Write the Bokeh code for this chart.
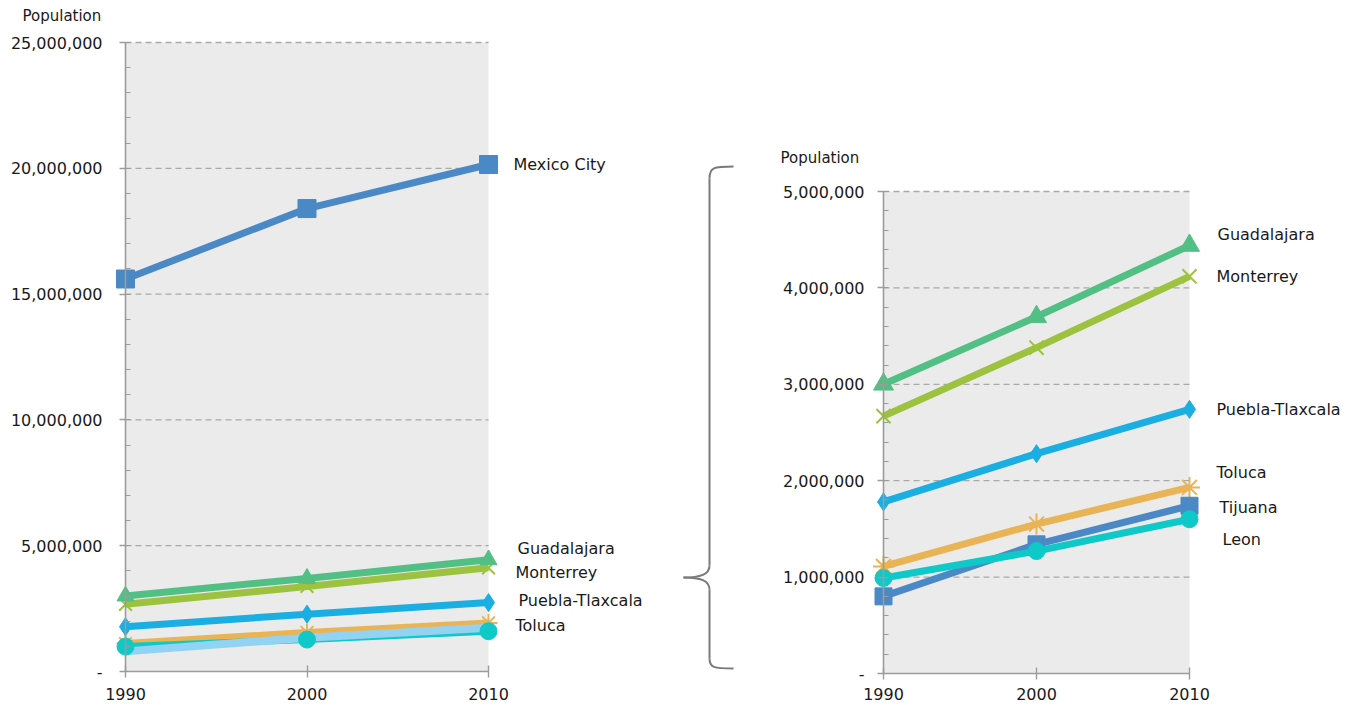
from bokeh.plotting import figure
from bokeh.layouts import row
from bokeh.models import Range1d, FixedTicker, NumeralTickFormatter, BoxAnnotation, Label
from bokeh.core.properties import value
from bokeh.embed import file_html
from bokeh.resources import INLINE

# Metropolitan population by census year
years = [1990, 2000, 2010]
mexico_city = [15_600_000, 18_400_000, 20_150_000]
guadalajara = [3_000_000, 3_700_000, 4_440_000]
monterrey = [2_670_000, 3_380_000, 4_120_000]
puebla_tlaxcala = [1_780_000, 2_280_000, 2_740_000]
toluca = [1_110_000, 1_550_000, 1_930_000]
tijuana = [800_000, 1_340_000, 1_740_000]
leon = [990_000, 1_270_000, 1_600_000]

# Axis ticks for the full view and the zoomed view
full_major = [0, 5_000_000, 10_000_000, 15_000_000, 20_000_000, 25_000_000]
full_minor = list(range(0, 25_000_001, 1_000_000))
zoom_major = [0, 1_000_000, 2_000_000, 3_000_000, 4_000_000, 5_000_000]
zoom_minor = list(range(0, 5_000_001, 200_000))

HEIGHT = 706
FONT = "DejaVu Sans"
TEXT = "#1a1a1a"
AXIS = "#9c9c9c"
GRID = "#a9a9a9"
PANEL = "#ebebeb"

BLUE = "#4a89c5"
GREEN = "#52bf84"
OLIVE = "#9dc23f"
SKY = "#1aaee2"
GOLD = "#e8b455"
TEAL = "#0fc9c9"
PALE = "#92d3f3"


def population_panel(width, axis_px, year_px, zero_px, top_px, y_top, major, minor,
                     y_standoff, x_standoff, title_dx, title_dy):
    """A panel whose frame fills the whole canvas; axes sit at fixed data
    locations (first census year, zero population) inside it."""
    px_per_unit = (zero_px - top_px) / y_top
    x0 = years[0] - axis_px / year_px
    x1 = x0 + width / year_px
    y0 = -(HEIGHT - zero_px) / px_per_unit
    y1 = y_top + top_px / px_per_unit
    p = figure(width=width, height=HEIGHT,
               x_range=Range1d(x0, x1), y_range=Range1d(y0, y1),
               output_backend="svg", toolbar_location=None, min_border=0)
    p.outline_line_color = None
    p.background_fill_color = "white"
    p.border_fill_color = "white"
    p.grid.visible = False

    # shaded plotting area between the first and last census
    p.add_layout(BoxAnnotation(left=years[0], right=years[-1], bottom=0, top=y_top,
                               fill_color=PANEL, fill_alpha=1.0, line_color=None,
                               level="underlay"))
    levels = [t for t in major if t > 0]
    p.segment(x0=[years[0]] * len(levels), y0=levels,
              x1=[years[-1]] * len(levels), y1=levels,
              line_color=GRID, line_width=1.3, line_dash="6 4")

    ya = p.yaxis[0]
    ya.fixed_location = years[0]
    ya.bounds = (0, y_top)
    ya.ticker = FixedTicker(ticks=major, minor_ticks=minor)
    ya.formatter = NumeralTickFormatter(format="0,0")
    ya.major_label_overrides = {0: "-"}
    ya.axis_line_color = AXIS
    ya.axis_line_width = 1.6
    ya.major_tick_line_color = AXIS
    ya.major_tick_line_width = 1.4
    ya.major_tick_in = 0
    ya.major_tick_out = 6
    ya.minor_tick_line_color = AXIS
    ya.minor_tick_line_width = 1.2
    ya.minor_tick_in = 5
    ya.minor_tick_out = 0
    ya.major_label_standoff = y_standoff
    ya.major_label_text_font = FONT
    ya.major_label_text_font_size = "16px"
    ya.major_label_text_color = TEXT

    xa = p.xaxis[0]
    xa.fixed_location = 0
    xa.bounds = (years[0], years[-1])
    xa.ticker = FixedTicker(ticks=years, minor_ticks=[])
    xa.axis_line_color = AXIS
    xa.axis_line_width = 1.6
    xa.major_tick_line_color = AXIS
    xa.major_tick_line_width = 1.4
    xa.major_tick_in = 6
    xa.major_tick_out = 6
    xa.minor_tick_line_color = None
    xa.major_label_standoff = x_standoff
    xa.major_label_text_font = FONT
    xa.major_label_text_font_size = "16px"
    xa.major_label_text_color = TEXT

    p.add_layout(Label(x=years[0] + title_dx / year_px, y=y_top + title_dy / px_per_unit,
                       text="Population", text_font=FONT, text_font_size="15px",
                       text_color=TEXT, text_baseline="middle", text_align="left"))
    return p


def draw_series(p, vals, color, marker, size, width=7, marker_line=1.0):
    p.line(years, vals, line_color=color, line_width=width, line_join="round")
    if marker is not None:
        p.scatter(years, vals, marker=marker, size=size, fill_color=color,
                  line_color=color, line_width=marker_line)


def end_labels(p, names, vals, dx, dy):
    p.text(x=[years[-1]] * len(names), y=[v[-1] for v in vals], text=names,
           x_offset=dx, y_offset=dy, text_baseline="middle", text_align="left",
           text_font=value(FONT), text_font_size=value("16px"), text_color=TEXT)


# ---- full view: all metropolitan areas ----
left = population_panel(width=660, axis_px=125, year_px=18.15, zero_px=671, top_px=42,
                        y_top=25_000_000, major=full_major, minor=full_minor,
                        y_standoff=17, x_standoff=10, title_dx=-103, title_dy=27)
draw_series(left, mexico_city, BLUE, "square", 18)
draw_series(left, monterrey, OLIVE, "x", 18, marker_line=2)
draw_series(left, guadalajara, GREEN, "triangle", 17)
draw_series(left, puebla_tlaxcala, SKY, "diamond", 18)
draw_series(left, toluca, GOLD, "asterisk", 18, marker_line=2)
draw_series(left, leon, TEAL, None, 0)
draw_series(left, tijuana, PALE, None, 0, width=8)
left.scatter(years, leon, marker="circle", size=17, fill_color=TEAL, line_color=TEAL)
end_labels(left,
           ["Mexico City", "Guadalajara", "Monterrey", "Puebla-Tlaxcala", "Toluca"],
           [mexico_city, guadalajara, monterrey, puebla_tlaxcala, toluca],
           dx=[25, 29, 27, 30, 27], dy=[0, -11, 5, -2, 3])

# ---- brace linking the full view to the zoomed view ----
brace = figure(width=100, height=HEIGHT, x_range=Range1d(0, 100), y_range=Range1d(HEIGHT, 0),
               output_backend="svg", toolbar_location=None,
               x_axis_type=None, y_axis_type=None, min_border=0)
brace.outline_line_color = None
brace.grid.visible = False
brace.background_fill_color = "white"
brace.border_fill_color = "white"
BR = "#7a7a7a"
brace.bezier(x0=[73, 49, 23, 49], y0=[166, 565, 577, 658],
             x1=[49, 23, 49, 73], y1=[178, 577, 589, 668],
             cx0=[53, 49, 40, 49], cy0=[166, 574, 577, 667],
             cx1=[49, 40, 49, 53], cy1=[167, 577, 580, 668],
             line_color=BR, line_width=2)
brace.segment(x0=[49, 49], y0=[178, 589], x1=[49, 49], y1=[565, 658],
              line_color=BR, line_width=2)

# ---- zoomed view: areas below five million ----
right = population_panel(width=598, axis_px=123, year_px=15.3, zero_px=673, top_px=191,
                         y_top=5_000_000, major=zoom_major, minor=zoom_minor,
                         y_standoff=13, x_standoff=8, title_dx=-103, title_dy=34)
draw_series(right, guadalajara, GREEN, "triangle", 20)
draw_series(right, monterrey, OLIVE, "x", 20, marker_line=2)
draw_series(right, puebla_tlaxcala, SKY, "diamond", 18)
draw_series(right, toluca, GOLD, "asterisk", 21, marker_line=2)
draw_series(right, tijuana, BLUE, "square", 17)
draw_series(right, leon, TEAL, "circle", 17)
end_labels(right,
           ["Guadalajara", "Monterrey", "Puebla-Tlaxcala", "Toluca", "Tijuana", "Leon"],
           [guadalajara, monterrey, puebla_tlaxcala, toluca, tijuana, leon],
           dx=[28, 27, 27, 27, 30, 33], dy=[-11, 0, 0, -15, 2, 20])

page = row(left, brace, right)
open("out.html", "w").write(file_html(page, INLINE))
